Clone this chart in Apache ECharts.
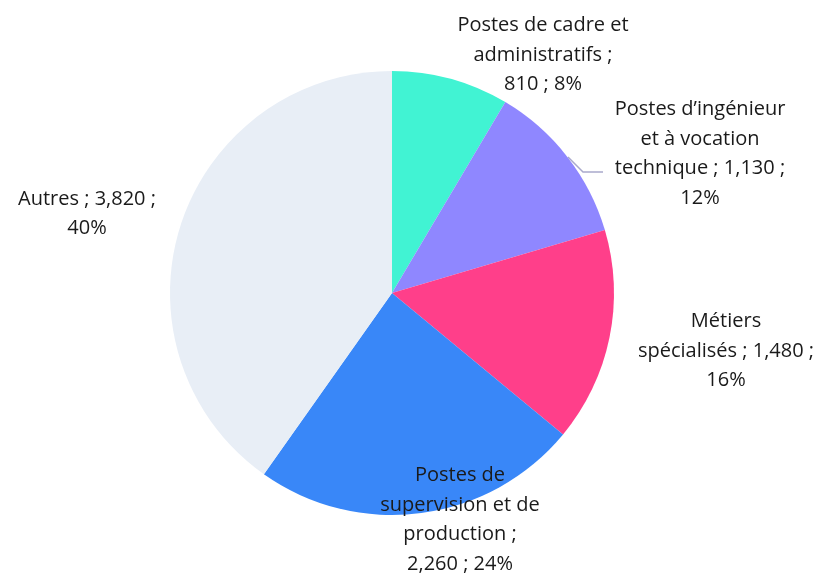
<!DOCTYPE html>
<html>
<head>
<meta charset="utf-8">
<script src="https://cdn.jsdelivr.net/npm/echarts@6/dist/echarts.min.js"></script>
<style>
  html, body { margin: 0; padding: 0; background: #fff; }
  #chart { width: 822px; height: 574px; }
</style>
</head>
<body>
<div id="chart"></div>
<script>
// categories et valeurs
var categories = [
  'Postes de cadre et administratifs',
  'Postes d\u2019ingénieur et à vocation technique',
  'Métiers spécialisés',
  'Postes de supervision et de production',
  'Autres'
]
var values = [810, 1130, 1480, 2260, 3820]
var colors = ['#41F3D3', '#8F87FF', '#FF3F8A', '#3987F8', '#E8EEF6']

// nombre de mots par ligne d'étiquette, et centre du bloc de texte
var lineWords = [[4, 2, 3], [2, 3, 4, 1], [1, 4, 1], [2, 3, 2, 3], [4, 1]]
var labelPos = [[543, 55], [700, 154], [726, 351], [460, 520], [87, 214]]

function wrapWords(text, counts) {
  var words = text.split(' ')
  var lines = []
  var k = 0
  counts.forEach(function (n) {
    lines.push(words.slice(k, k + n).join(' '))
    k += n
  })
  return lines.join('\n')
}

var chart = echarts.init(document.getElementById('chart'))

var seriesData = categories.map(function (name, i) {
  return {
    name: name,
    value: values[i],
    itemStyle: { color: colors[i] },
    labelLine: { show: i === 1 }
  }
})

var option = {
  animation: false,
  series: [
    {
      type: 'pie',
      center: [392, 293],
      radius: 222,
      startAngle: 90,
      clockwise: true,
      percentPrecision: 0,
      data: seriesData,
      label: {
        show: true,
        position: 'outside',
        fontFamily: 'Open Sans',
        fontSize: 20,
        lineHeight: 29.5,
        color: '#1a1a1a',
        align: 'center',
        overflow: 'none',
        width: 260,
        formatter: function (p) {
          var text = p.name + ' ; ' + p.value.toLocaleString('en-US') + ' ; ' + p.percent + '%'
          return wrapWords(text, lineWords[p.dataIndex])
        }
      },
      labelLine: {
        lineStyle: { color: '#A9A9CC', width: 1.5 }
      },
      labelLayout: function (params) {
        var i = params.dataIndex
        var res = {
          x: labelPos[i][0],
          y: labelPos[i][1],
          align: 'center',
          verticalAlign: 'middle'
        }
        if (i === 1) {
          res.labelLinePoints = [[568, 157], [583, 172], [603, 172]]
        }
        return res
      }
    }
  ]
}

chart.setOption(option)
</script>
</body>
</html>
